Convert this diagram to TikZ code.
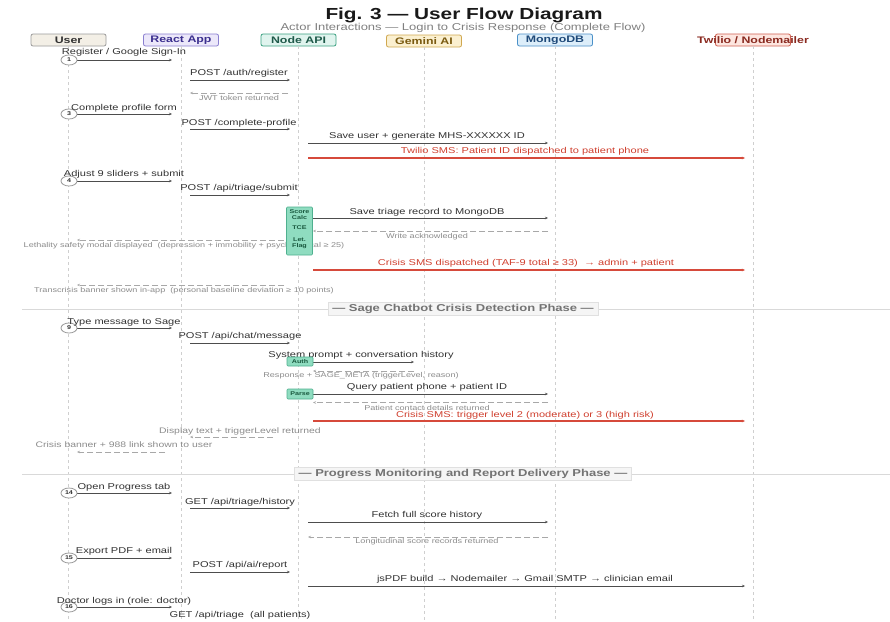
\documentclass[tikz,border=0pt]{standalone}
\usepackage{fontspec}
\setmainfont{Liberation Sans}[FakeStretch=1.3]
\usetikzlibrary{arrows.meta,shapes.geometric}
\definecolor{txt}{HTML}{333333}
\definecolor{lnc}{HTML}{4D4D4D}
\definecolor{retc}{HTML}{A8A8A8}
\definecolor{retl}{HTML}{8C8C8C}
\definecolor{redc}{HTML}{D64A3B}
\definecolor{redt}{HTML}{D0402F}
\definecolor{lifec}{HTML}{CFCFCF}
\definecolor{uf}{HTML}{F3EFE6}\definecolor{ud}{HTML}{9A9A9A}\definecolor{ut}{HTML}{333333}
\definecolor{rf}{HTML}{ECE8FA}\definecolor{rd}{HTML}{8A7FD0}\definecolor{rt}{HTML}{3B2F8F}
\definecolor{nf}{HTML}{E0F4EE}\definecolor{nd}{HTML}{3AA080}\definecolor{nt}{HTML}{1F5A4A}
\definecolor{gf}{HTML}{FBF0D0}\definecolor{gd}{HTML}{D0A850}\definecolor{gt}{HTML}{7A5A10}
\definecolor{mf}{HTML}{DDEEFA}\definecolor{md}{HTML}{4A90C8}\definecolor{mt}{HTML}{1F4A7A}
\definecolor{tf}{HTML}{FDE6E0}\definecolor{td}{HTML}{D06050}\definecolor{tt}{HTML}{8A2A20}
\definecolor{actf}{HTML}{8FDCC0}\definecolor{actd}{HTML}{4FB08F}\definecolor{actt}{HTML}{1A5A40}
\newcommand\arrowrow[5]{\coordinate (#2s) at (#3,#5);\coordinate (#2e) at (#4,#5);\draw[#1] (#2s) -- (#2e);}
\begin{document}
\begin{tikzpicture}[x=1pt,y=-1pt,
  hdr/.style={draw, rounded corners=2pt, line width=0.8pt, minimum width=75pt, minimum height=12pt, inner sep=0pt, font=\fontsize{9.5}{11}\selectfont\bfseries},
  lbl/.style={inner sep=0pt, font=\fontsize{8.5}{10}\selectfont, text=txt},
  redlbl/.style={inner sep=0pt, font=\fontsize{8.5}{10}\selectfont, text=redt},
  rlbl/.style={inner sep=0pt, font=\fontsize{7}{8}\selectfont, text=retl},
  msg/.style={draw=lnc, line width=1pt, -{Stealth[length=3pt,width=2.5pt]}},
  redmsg/.style={draw=redc, line width=1.3pt, -{Stealth[length=3pt,width=2.5pt]}},
  ret/.style={draw=retc, line width=1pt, dash pattern=on 6pt off 3pt, -{Stealth[length=3pt,width=2.5pt]}},
  num/.style={ellipse, draw=ud, fill=white, line width=0.8pt, minimum width=16pt, minimum height=10pt, inner sep=0pt, font=\fontsize{5.5}{6}\selectfont\bfseries, text=txt},
  act/.style={draw=actd, fill=actf, line width=0.6pt, rounded corners=1pt, inner sep=0pt, minimum width=26pt},
  acttxt/.style={inner sep=0pt, align=center, font=\fontsize{5.5}{6}\selectfont\bfseries, text=actt},
  phase/.style={draw=black!12, fill=black!4, inner xsep=4pt, inner ysep=2pt, font=\fontsize{10}{11}\selectfont\bfseries, text=black!55},
  life/.style={draw=lifec, line width=0.6pt, dash pattern=on 3pt off 3pt},
  divider/.style={draw=black!15, line width=0.6pt}]
\useasboundingbox (0,0) rectangle (890,621);
\fill[white] (0,0) rectangle (890,621);
\coordinate (bot) at (0,621);
% title
\node[inner sep=0pt, font=\fontsize{16}{18}\selectfont\bfseries, text=black!90] (title) at (464,15) {Fig. 3 — User Flow Diagram};
\node[inner sep=0pt, font=\fontsize{10}{12}\selectfont, text=black!50] (sub) at (463,28) {Actor Interactions — Login to Crisis Response (Complete Flow)};
% headers
\node[hdr, fill=uf, draw=ud, text=ut] (U) at (68.5,40) {User};
\node[hdr, fill=rf, draw=rd, text=rt] (R) at (181,40) {React App};
\node[hdr, fill=nf, draw=nd, text=nt] (N) at (298.5,40) {Node API};
\node[hdr, fill=gf, draw=gd, text=gt] (G) at (424,41) {Gemini AI};
\node[hdr, fill=mf, draw=md, text=mt] (M) at (555,40) {MongoDB};
\node[hdr, fill=tf, draw=td] (T) at (753,40) {};
\node[inner sep=0pt, font=\fontsize{9.5}{11}\selectfont\bfseries, text=tt] (Tt) at (753,40) {Twilio / Nodemailer};
% lifelines
\foreach \a in {U,R,N,G,M,T}{\draw[life] (\a.south) -- (\a.south |- bot);}
% --- registration
\arrowrow{msg}{a1}{77}{172}{60}
\node[num] (n1) at (69,60) {1};
\node[lbl] (l1) at (124,52) {Register / Google Sign-In};
\node[lbl] (l2) at (239,73) {POST /auth/register};
\arrowrow{msg}{a2}{190}{290}{80}
\arrowrow{ret}{a3}{288}{190}{93}
\node[rlbl] (l3) at (239,98) {JWT token returned};
\arrowrow{msg}{a4}{77}{172}{114}
\node[num] (n3) at (69,114) {3};
\node[lbl] (l4) at (124,108) {Complete profile form};
\node[lbl] (l5) at (239,123) {POST /complete-profile};
\arrowrow{msg}{a5}{190}{290}{129}
\node[lbl] (l6) at (427,136) {Save user + generate MHS-XXXXXX ID};
\arrowrow{msg}{a6}{308}{548}{143}
\node[redlbl] (l7) at (525,151) {Twilio SMS: Patient ID dispatched to patient phone};
\arrowrow{redmsg}{a7}{308}{745}{158}
% --- triage
\arrowrow{msg}{a8}{77}{172}{181}
\node[num] (n4) at (69,181) {4};
\node[lbl] (l8) at (124,174) {Adjust 9 sliders + submit};
\node[lbl] (l9) at (239,188) {POST /api/triage/submit};
\arrowrow{msg}{a9}{190}{290}{195}
\node[lbl] (l11) at (427,212) {Save triage record to MongoDB};
\arrowrow{msg}{a11}{313}{548}{218}
\arrowrow{ret}{a12}{548}{313}{231}
\node[rlbl] (l12) at (427,237) {Write acknowledged};
\arrowrow{ret}{a13}{284}{77}{240}
\node[rlbl] (l13) at (184,246) {Lethality safety modal displayed\ \ (depression + immobility + psychological ≥ 25)};
\node[act, minimum height=48pt] (act1) at (299.5,231) {};
\node[acttxt] (t1) at (299.5,215) {Score\\Calc};
\node[acttxt] (t2) at (299.5,228) {TCE};
\node[acttxt] (t3) at (299.5,243) {Let.\\Flag};
\node[redlbl] (l14) at (526,263) {Crisis SMS dispatched (TAF-9 total ≥ 33)\ \ → admin + patient};
\arrowrow{redmsg}{a14}{313}{745}{270}
\arrowrow{ret}{a15}{284}{77}{285}
\node[rlbl] (l15) at (184,291) {Transcrisis banner shown in-app\ \ (personal baseline deviation ≥ 10 points)};
% --- phase 2
\coordinate (d1a) at (22,309); \coordinate (d1b) at (890,309);
\draw[divider] (d1a) -- (d1b);
\node[phase] (p1) at (463,309) {— Sage Chatbot Crisis Detection Phase —};
\arrowrow{msg}{b1}{77}{172}{328}
\node[num] (n9) at (69,328) {9};
\node[lbl] (k1) at (124,322) {Type message to Sage};
\node[lbl] (k2) at (240,336) {POST /api/chat/message};
\arrowrow{msg}{b2}{190}{290}{343}
\node[lbl] (k3) at (361,355.5) {System prompt + conversation history};
\arrowrow{msg}{b3}{313}{414}{362}
\node[act, minimum height=9pt] (auth) at (300,361.5) {};
\node[acttxt] (authT) at (300,361.5) {Auth};
\arrowrow{ret}{b4}{414}{313}{371}
\node[rlbl] (k4) at (361,376) {Response + SAGE\_META (triggerLevel, reason)};
\node[lbl] (k5) at (427,387) {Query patient phone + patient ID};
\arrowrow{msg}{b5}{313}{548}{394}
\node[act, minimum height=10pt] (parse) at (300,394) {};
\node[acttxt] (parseT) at (300,394) {Parse};
\arrowrow{ret}{b6}{548}{313}{402.5}
\node[rlbl] (k6) at (427,407.5) {Patient contact details returned};
\node[redlbl] (k7) at (525,415) {Crisis SMS: trigger level 2 (moderate) or 3 (high risk)};
\arrowrow{redmsg}{b7}{313}{745}{421}
\node[rlbl, font=\fontsize{8}{9}\selectfont] (k8) at (240,431) {Display text + triggerLevel returned};
\arrowrow{ret}{b8}{273}{190}{437}
\node[rlbl, font=\fontsize{8}{9}\selectfont] (k9) at (124,445) {Crisis banner + 988 link shown to user};
\arrowrow{ret}{b9}{165}{77}{452}
% --- phase 3
\coordinate (d2a) at (22,474); \coordinate (d2b) at (890,474);
\draw[divider] (d2a) -- (d2b);
\node[phase] (p2) at (463,474) {— Progress Monitoring and Report Delivery Phase —};
\arrowrow{msg}{c1}{77}{172}{493}
\node[num] (n14) at (69,493) {14};
\node[lbl] (j1) at (124,487) {Open Progress tab};
\node[lbl] (j2) at (240,502) {GET /api/triage/history};
\arrowrow{msg}{c2}{190}{290}{508}
\node[lbl] (j3) at (427,515) {Fetch full score history};
\arrowrow{msg}{c3}{308}{548}{522}
\arrowrow{ret}{c4}{548}{308}{537}
\node[rlbl] (j4) at (427,542) {Longitudinal score records returned};
\arrowrow{msg}{c5}{77}{172}{558}
\node[num] (n15) at (69,558) {15};
\node[lbl] (j5) at (124,551) {Export PDF + email};
\node[lbl] (j6) at (240,565) {POST /api/ai/report};
\arrowrow{msg}{c6}{190}{290}{572}
\node[lbl] (j7) at (525,579) {jsPDF build → Nodemailer → Gmail SMTP → clinician email};
\arrowrow{msg}{c7}{308}{745}{586}
\arrowrow{msg}{c8}{77}{172}{607}
\node[num] (n16) at (69,607) {16};
\node[lbl] (j8) at (124,601) {Doctor logs in (role: doctor)};
\node[lbl] (j9) at (240,615) {GET /api/triage\ \ (all patients)};
\end{tikzpicture}
\end{document}
